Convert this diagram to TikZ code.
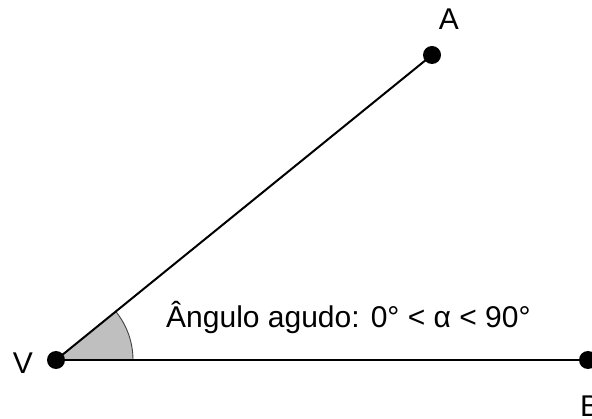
\documentclass[tikz,border=0pt]{standalone}
\usepackage{fontspec}
\setmainfont{Liberation Sans}
\usepackage{tikz}
\usetikzlibrary{calc,positioning}

\tikzset{
  ponto/.style={circle, fill=black, inner sep=0pt, minimum size=18pt},
  rotulo/.style={font=\fontsize{30}{35}\selectfont, inner sep=0pt},
  lado/.style={line width=2pt, black}
}

\begin{document}
\begin{tikzpicture}[x=1pt, y=1pt]
  % Moldura
  \useasboundingbox (0, 0) rectangle (592, 418);

  % Vertices
  \coordinate (V) at (56, 58);
  \coordinate (A) at (432, 363);
  \coordinate (B) at (588, 58);

  % Setor do angulo
  \fill[black!25] (V) -- ++(77, 0) arc[start angle=0, end angle=39.05, radius=77] -- cycle;
  \draw[line width=0.9pt, gray!50!black] ($(V)+(77, 0)$) arc[start angle=0, end angle=39.05, radius=77];

  % Lados
  \draw[lado] (V) -- (A);
  \draw[lado] (V) -- (B);

  \node[ponto] (pV) at (V) {};
  \node[ponto] (pA) at (A) {};
  \node[ponto] (pB) at (B) {};

  % Rotulos
  \node[rotulo] (lA) at (449, 399) {A};
  \node[rotulo] (lV) at (23, 55) {V};
  \node[rotulo] (lB) at (590, 12) {B};
  \node[rotulo, anchor=base west] (txt) at (166, 90) {Ângulo agudo: 0° < α < 90°};
\end{tikzpicture}
\end{document}
